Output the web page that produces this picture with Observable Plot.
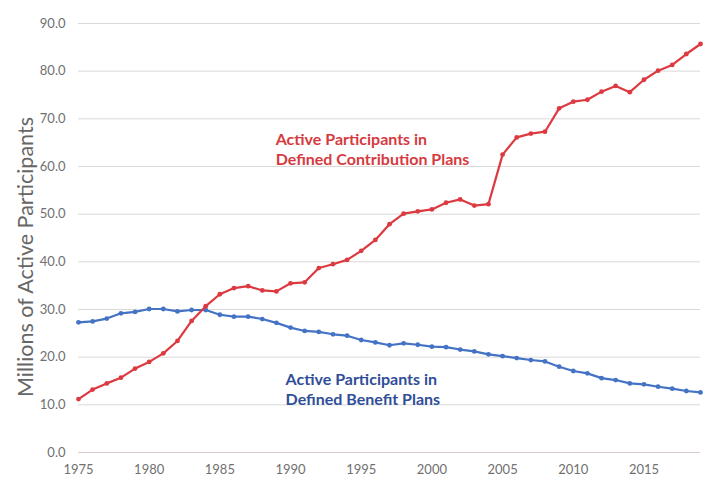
<!DOCTYPE html>
<html>
<head>
<meta charset="utf-8">
<script src="https://cdn.jsdelivr.net/npm/d3@7"></script>
<script src="https://cdn.jsdelivr.net/npm/@observablehq/plot@0.6"></script>
<style>
  html, body { margin: 0; padding: 0; background: #fff; }
  #chart { width: 716px; height: 479px; }
</style>
</head>
<body>
<div id="chart"></div>
<script>
const years = d3.range(1975, 2020);
const dcValues = [11.2, 13.2, 14.5, 15.7, 17.6, 19.0, 20.8, 23.4, 27.6, 30.7,
  33.2, 34.5, 34.9, 34.0, 33.8, 35.5, 35.7, 38.7, 39.5, 40.4,
  42.3, 44.6, 47.9, 50.1, 50.6, 51.0, 52.4, 53.1, 51.8, 52.1,
  62.5, 66.1, 66.9, 67.3, 72.2, 73.6, 74.0, 75.7, 76.9, 75.6,
  78.2, 80.1, 81.3, 83.6, 85.7];
const dbValues = [27.3, 27.5, 28.1, 29.2, 29.5, 30.1, 30.1, 29.6, 29.9, 29.9,
  28.9, 28.5, 28.5, 28.0, 27.2, 26.2, 25.5, 25.3, 24.8, 24.5,
  23.6, 23.1, 22.5, 22.9, 22.6, 22.2, 22.1, 21.6, 21.2, 20.6,
  20.2, 19.8, 19.4, 19.1, 18.0, 17.1, 16.6, 15.6, 15.2, 14.5,
  14.3, 13.8, 13.4, 12.9, 12.6];
const xTicks = [1975, 1980, 1985, 1990, 1995, 2000, 2005, 2010, 2015];
const yTicks = [0, 10, 20, 30, 40, 50, 60, 70, 80, 90];
const labels = [
  {year: 1988.95, value: 63.85, text: "Active Participants in\nDefined Contribution Plans", color: "#d63a40"},
  {year: 1989.65, value: 13.45, text: "Active Participants in\nDefined Benefit Plans", color: "#2f4e98"}
];
const yTitle = "Millions of Active Participants";

const dc = years.map((y, i) => ({year: y, value: dcValues[i]}));
const db = years.map((y, i) => ({year: y, value: dbValues[i]}));

const red = "#dc3a40";
const blue = "#4472c4";

const chart = Plot.plot({
  width: 716,
  height: 479,
  marginLeft: 78,
  marginRight: 16,
  marginTop: 23,
  marginBottom: 27,
  style: {fontFamily: "Lato, sans-serif", background: "#fff"},
  x: {domain: [1975, 2019]},
  y: {domain: [0, 90]},
  marks: [
    Plot.gridY(yTicks.filter(d => d > 0), {stroke: "#d9d9d9", strokeOpacity: 1, strokeWidth: 1}),
    Plot.ruleY([0], {stroke: "#d8cccc", strokeWidth: 1}),
    Plot.axisY({ticks: yTicks, tickFormat: d3.format(".1f"), tickSize: 0, tickPadding: 13, fontSize: 13, color: "#707070", label: null}),
    Plot.axisX({ticks: xTicks, tickFormat: d3.format("d"), tickSize: 0, tickPadding: 12, fontSize: 13, color: "#707070", label: null}),
    Plot.text([yTitle], {frameAnchor: "left", textAnchor: "middle", rotate: -90, dx: -52, dy: 19, fontSize: 21.5, fill: "#666"}),
    Plot.line(db, {x: "year", y: "value", stroke: blue, strokeWidth: 2.2}),
    Plot.dot(db, {x: "year", y: "value", fill: blue, r: 2.4}),
    Plot.line(dc, {x: "year", y: "value", stroke: red, strokeWidth: 2.2}),
    Plot.dot(dc, {x: "year", y: "value", fill: red, r: 2.4}),
    Plot.text(labels, {x: "year", y: "value", text: "text", fill: "color", textAnchor: "start", lineAnchor: "middle", lineHeight: 1.25, fontSize: 16, fontWeight: "bold"})
  ]
});
document.getElementById("chart").appendChild(chart);
</script>
</body>
</html>
